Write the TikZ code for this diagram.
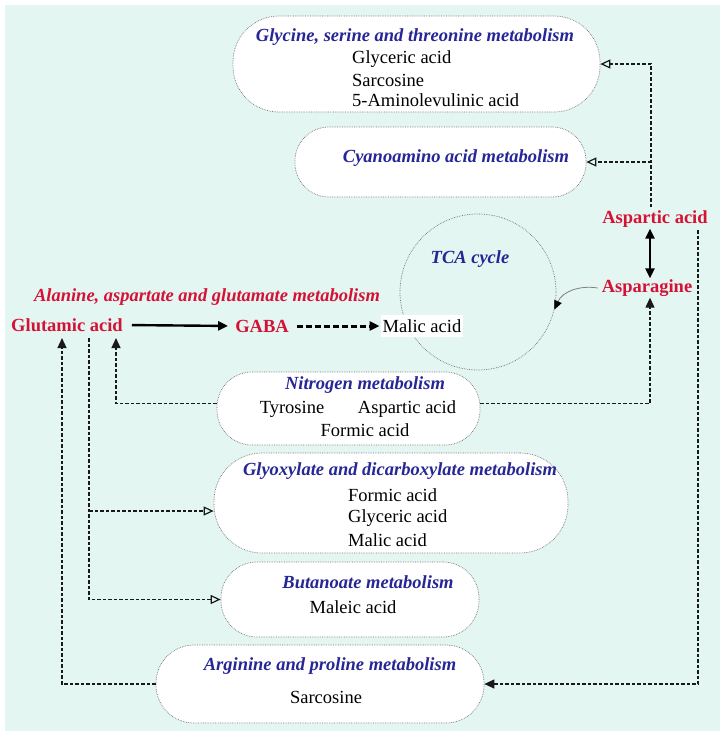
\documentclass[tikz,border=0pt]{standalone}
\usepackage{fontspec}
\setmainfont{Liberation Serif}
\usetikzlibrary{arrows.meta}
\definecolor{mint}{RGB}{228,246,242}
\definecolor{pblue}{RGB}{38,38,150}
\definecolor{pred}{RGB}{212,18,54}
\begin{document}
\begin{tikzpicture}[x=1pt,y=-1pt,
  every node/.style={font=\fontsize{18.5}{22}\selectfont},
  pbox/.style={draw=black!55, densely dotted, line width=0.7pt, fill=white, inner sep=0pt},
  ttl/.style={text=pblue, font=\fontsize{18.5}{22}\selectfont\bfseries\itshape, inner sep=0pt},
  met/.style={inner sep=0pt},
  rmet/.style={text=pred, font=\fontsize{18.5}{22}\selectfont\bfseries, inner sep=1pt},
  dl/.style={dash pattern=on 3.5pt off 2pt, line width=1.2pt, black!90},
  ftip/.style={-{Triangle[length=10pt,width=9pt]}},
  otip/.style={-{Triangle[open,length=10pt,width=9pt,line width=1.2pt]}}
]
\useasboundingbox (0,0) rectangle (725,737);
\fill[mint] (5,5) rectangle (720,731);

% TCA cycle
\node[draw=black!55, densely dotted, line width=0.7pt, circle, minimum size=156pt, inner sep=0pt] (tca) at (478,292) {};
\node[ttl] (tcaT) at (470,259) {TCA cycle};

% boxes
\node[pbox, minimum width=367pt, minimum height=96pt, rounded corners=46pt] (glyc) at (416.5,64) {};
\node[pbox, minimum width=291pt, minimum height=70pt, rounded corners=34pt] (cyano) at (440.5,162) {};
\node[pbox, minimum width=263pt, minimum height=73pt, rounded corners=35pt] (nitro) at (348.5,408.5) {};
\node[pbox, minimum width=354pt, minimum height=100pt, rounded corners=48pt] (glyox) at (391,503) {};
\node[pbox, minimum width=258pt, minimum height=75pt, rounded corners=36pt] (butan) at (350,599.5) {};
\node[pbox, minimum width=328pt, minimum height=78pt, rounded corners=38pt] (argin) at (320,684) {};

% box texts
\node[ttl] (glycT) at (415,37) {Glycine, serine and threonine metabolism};
\node[met, anchor=west] (glyc1) at (352,59) {Glyceric acid};
\node[met, anchor=west] (glyc2) at (352,80) {Sarcosine};
\node[met, anchor=west] (glyc3) at (352,100) {5-Aminolevulinic acid};

\node[ttl] (cyanoT) at (456,158) {Cyanoamino acid metabolism};

\node[ttl] (nitroT) at (365,385) {Nitrogen metabolism};
\node[met] (nitro1) at (292,409) {Tyrosine};
\node[met] (nitro2) at (407,409) {Aspartic acid};
\node[met] (nitro3) at (365,430) {Formic acid};

\node[ttl] (glyoxT) at (400,471) {Glyoxylate and dicarboxylate metabolism};
\node[met, anchor=west] (glyox1) at (348,495) {Formic acid};
\node[met, anchor=west] (glyox2) at (348,518) {Glyceric acid};
\node[met, anchor=west] (glyox3) at (348,540) {Malic acid};

\node[ttl] (butanT) at (368,582) {Butanoate metabolism};
\node[met] (butan1) at (353,607) {Maleic acid};

\node[ttl] (arginT) at (330,666) {Arginine and proline metabolism};
\node[met] (argin1) at (326,697) {Sarcosine};

% red metabolites
\node[rmet] (asp) at (655,219) {Aspartic acid};
\node[rmet] (aspg) at (647,288) {Asparagine};
\node[ttl, text=pred] (alaT) at (207,297) {Alanine, aspartate and glutamate metabolism};
\node[rmet] (glu) at (67,325) {Glutamic acid};
\node[rmet] (gaba) at (262,326) {GABA};
\node[fill=white, inner xsep=2pt, inner ysep=4pt] (malic) at (422,326) {Malic acid};

% coordinates
\coordinate (aspTop) at (651,207);
\coordinate (aspR) at (698,230);
\coordinate (gluL) at (62,338);
\coordinate (gluM) at (89,338);
\coordinate (gluR) at (116,338);
\coordinate (glyB) at ([yshift=-8pt]glyox.west);

% connectors
\draw[dl, otip] (aspTop) |- (glyc.east);
\draw[dl, otip] (aspTop |- cyano.east) -- (cyano.east);
\draw[line width=2.4pt, {Triangle[length=10pt,width=9pt]}-{Triangle[length=10pt,width=9pt]}]
  ([xshift=-5pt]asp.south) -- ([xshift=3pt]aspg.north);
\draw[dl, ftip] ([yshift=5pt]nitro.east) -| ([xshift=3pt]aspg.south);
\draw[black!50, line width=0.8pt, -{Triangle[black,length=9pt,width=8pt]}]
  ([xshift=-3pt]aspg.west) .. controls +(-18,-3) and +(8,-18) .. (tca.-13);
\draw[line width=2.4pt, shorten <=8pt, shorten >=6pt, -{Triangle[length=10pt,width=9pt]}] (glu.east) -- (gaba.west);
\draw[line width=3pt, dash pattern=on 6pt off 3pt, shorten <=7pt, shorten >=1pt, -{Triangle[length=10pt,width=9pt]}] (gaba.east) -- (malic.west);
\draw[dl, ftip] ([yshift=5pt]nitro.west) -| (gluR);
\draw[dl, otip] (gluM) |- (butan.west);
\draw[dl, otip] (gluM |- glyB) -- (glyB);
\draw[dl, ftip] (argin.west) -| (gluL);
\draw[dl, ftip] (aspR) |- (argin.east);
\end{tikzpicture}
\end{document}
